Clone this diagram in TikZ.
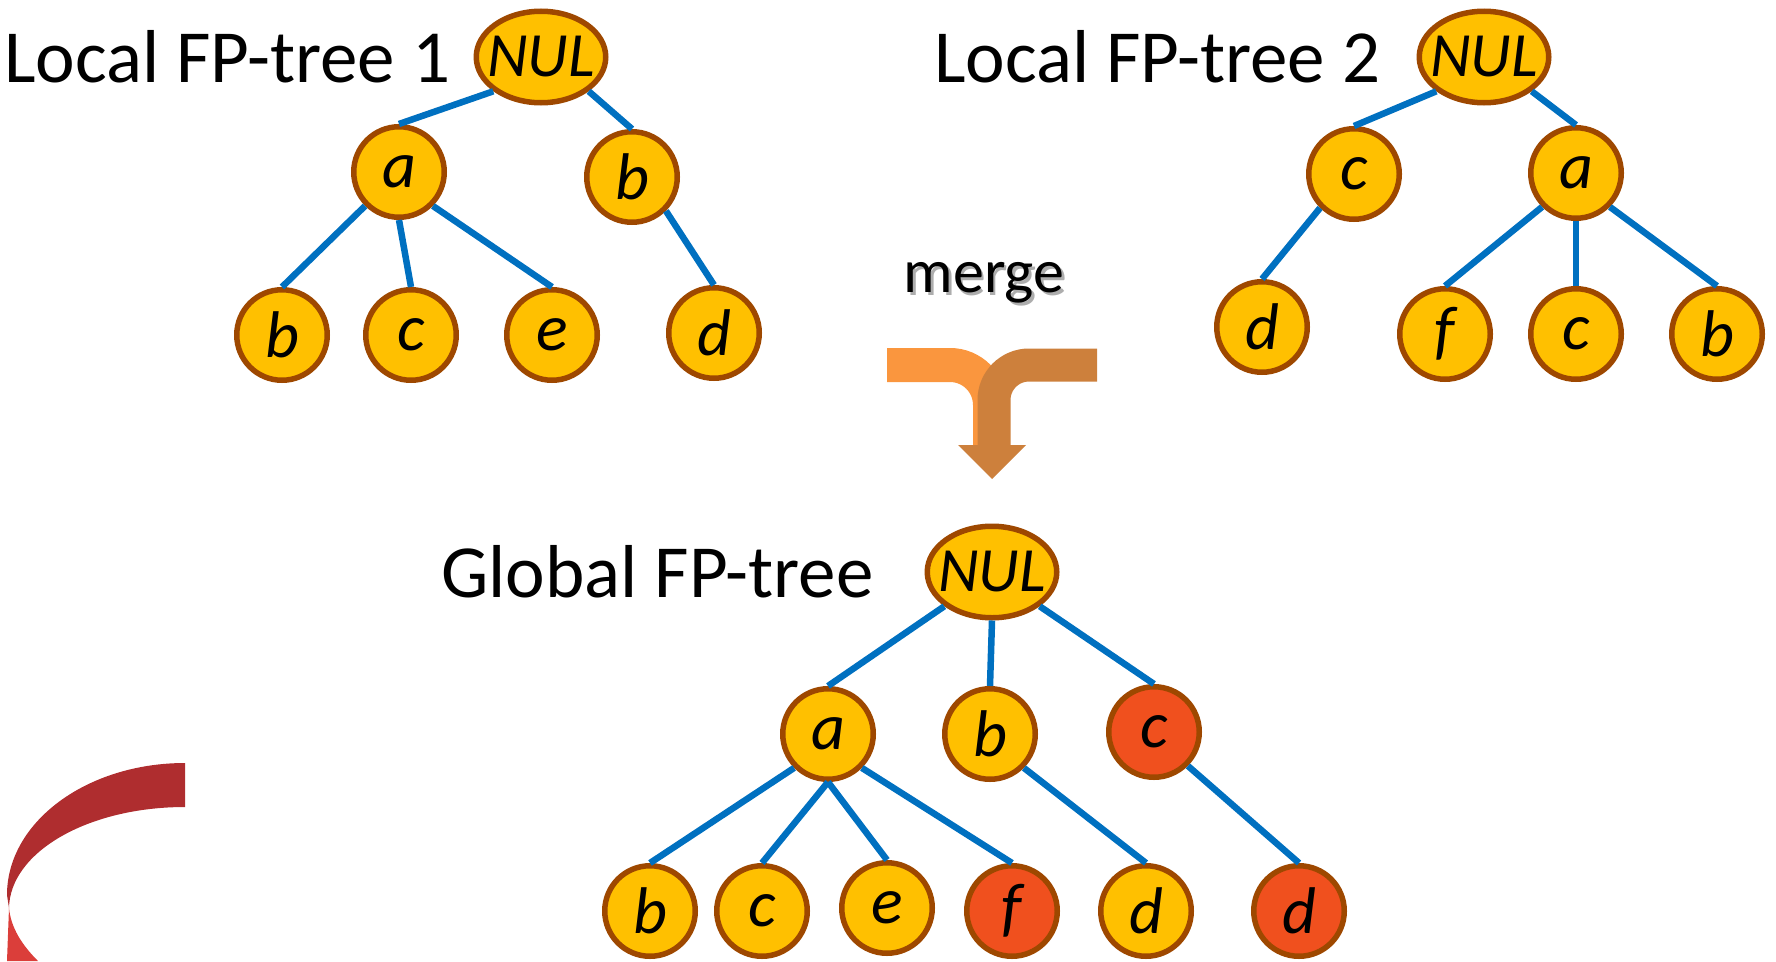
\documentclass[tikz,border=0pt]{standalone}
\usepackage{fontspec}
\setmainfont{Carlito}
\usetikzlibrary{shapes.geometric}
\definecolor{nodey}{RGB}{255,192,0}
\definecolor{nodered}{RGB}{240,80,30}
\definecolor{nodeborder}{RGB}{158,72,0}
\definecolor{edgeblue}{RGB}{0,112,192}
\definecolor{lightor}{RGB}{250,150,62}
\definecolor{darkor}{RGB}{205,128,60}
\definecolor{ribdark}{RGB}{175,45,47}
\definecolor{riblight}{RGB}{219,62,58}
\begin{document}
\begin{tikzpicture}[x=1pt,y=-1pt,
  tnode/.style={circle,draw=nodeborder,line width=5.5pt,fill=nodey,minimum size=90.5pt,inner sep=0pt,font=\fontsize{66}{68}\selectfont\itshape},
  rnode/.style={tnode,fill=nodered},
  rootnode/.style={ellipse,draw=nodeborder,line width=5.5pt,fill=nodey,minimum width=129.5pt,minimum height=91.5pt,inner xsep=-12pt,inner ysep=0pt,font=\fontsize{63}{65}\selectfont\itshape},
  treeedge/.style={draw=edgeblue,line width=6.5pt},
  titletext/.style={anchor=base west,inner sep=0pt,font=\fontsize{75}{80}\selectfont}]
\useasboundingbox (0,0) rectangle (1776,961);

% titles
\node[titletext] (t1) at (4,82) {Local FP-tree 1};
\node[titletext] (t2) at (934,82) {Local FP-tree 2};
\node[titletext] (t3) at (441,597) {Global FP-tree};

% merge label with shadow
\node[anchor=base,inner sep=0pt,font=\fontsize{62}{64}\selectfont,text=black!40,opacity=0.8] (mergeshadow) at (986.5,295) {merge};
\node[anchor=base,inner sep=0pt,font=\fontsize{62}{64}\selectfont] (merge) at (984,292) {merge};

% merge arrow
\draw[line width=34pt,color=lightor,rounded corners=40pt] (887,365) -- (990,365) -- (990,446);
\draw[line width=33pt,color=darkor,rounded corners=35pt] (1097,365) -- (994,365) -- (994,446);
\fill[darkor] (958,445) -- (1026,445) -- (992,479) -- cycle;

% ribbon bottom-left
\fill[ribdark] (185,763) .. controls (86.7,763) and (7,822) .. (7,895) -- (9,908)
  .. controls (10,852) and (88,807) .. (185,807) -- cycle;
\fill[riblight] (9,908) -- (7,961) -- (38,961) .. controls (22,945) and (11,928) .. (9,908) -- cycle;

% tree 1
\node[rootnode] (r1) at (541,57) {NUL};
\node[tnode] (a1) at (399,172) {a};
\node[tnode] (b1) at (632,177) {b};
\node[tnode] (b1l) at (282,335) {b};
\node[tnode] (c1l) at (411,335) {c};
\node[tnode] (e1l) at (552,335) {e};
\node[tnode] (d1l) at (714,333) {d};

% tree 2
\node[rootnode] (r2) at (1484,57) {NUL};
\node[tnode] (c2) at (1354,174) {c};
\node[tnode] (a2) at (1576,173) {a};
\node[tnode] (d2l) at (1262,327) {d};
\node[tnode] (f2l) at (1445,334) {f};
\node[tnode] (c2l) at (1576,334) {c};
\node[tnode] (b2l) at (1717,334) {b};

% global tree
\node[rootnode] (r3) at (992,572) {NUL};
\node[tnode] (a3) at (828,734) {a};
\node[tnode] (b3) at (990,734) {b};
\node[rnode] (c3) at (1154,732) {c};
\node[tnode] (b3l) at (650,911) {b};
\node[tnode] (c3l) at (762,911) {c};
\node[tnode] (e3l) at (887,908) {e};
\node[rnode] (f3l) at (1012,911) {f};
\node[tnode] (d3l) at (1146,911) {d};
\node[rnode] (d3r) at (1299,911) {d};

% edges tree 1
\draw[treeedge] (r1.south west) -- (a1.north);
\draw[treeedge] (r1.south east) -- (b1.north);
\draw[treeedge] (a1.south west) -- (b1l.north);
\draw[treeedge] (a1.south) -- (c1l.north);
\draw[treeedge] (a1.south east) -- (e1l.north);
\draw[treeedge] (b1.south east) -- (d1l.north);

% edges tree 2
\draw[treeedge] (r2.south west) -- (c2.north);
\draw[treeedge] (r2.south east) -- (a2.north);
\draw[treeedge] (c2.south west) -- (d2l.north);
\draw[treeedge] (a2.south west) -- (f2l.north);
\draw[treeedge] (a2.south) -- (c2l.north);
\draw[treeedge] (a2.south east) -- (b2l.north);

% edges global
\draw[treeedge] (r3.south west) -- (a3.north);
\draw[treeedge] (r3.south) -- (b3.north);
\draw[treeedge] (r3.south east) -- (c3.north);
\draw[treeedge] (a3.south west) -- (b3l.north);
\draw[treeedge] (a3.south) -- (c3l.north);
\draw[treeedge] (a3.south) -- (e3l.north);
\draw[treeedge] (a3.south east) -- (f3l.north);
\draw[treeedge] (b3.south east) -- (d3l.north);
\draw[treeedge] (c3.south east) -- (d3r.north);
\end{tikzpicture}
\end{document}
